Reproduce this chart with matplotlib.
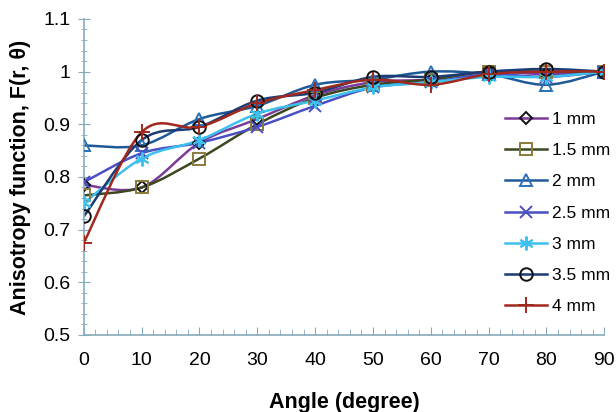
import numpy as np
import matplotlib
matplotlib.use("Agg")
from matplotlib import pyplot as plt
from matplotlib.path import Path
from matplotlib.patches import PathPatch
from matplotlib.lines import Line2D
from matplotlib.ticker import MultipleLocator

# Kot v stopinjah
koti = [0, 10, 20, 30, 40, 50, 60, 70, 80, 90]

# Anizotropna funkcija za posamezne razdalje
f_1mm = [0.785, 0.78, 0.865, 0.91, 0.955, 0.98, 0.985, 1.0, 0.995, 1.0]
f_15mm = [0.765, 0.78, 0.835, 0.90, 0.95, 0.975, 0.985, 1.0, 1.0, 1.0]
f_2mm = [0.86, 0.86, 0.91, 0.935, 0.975, 0.985, 1.0, 0.995, 0.975, 1.0]
f_25mm = [0.79, 0.845, 0.865, 0.895, 0.935, 0.97, 0.98, 0.995, 0.99, 1.0]
f_3mm = [0.75, 0.835, 0.87, 0.92, 0.945, 0.97, 0.98, 0.99, 0.99, 1.0]
f_35mm = [0.725, 0.87, 0.895, 0.945, 0.96, 0.99, 0.99, 1.0, 1.005, 1.0]
f_4mm = [0.675, 0.885, 0.895, 0.94, 0.965, 0.985, 0.975, 0.995, 1.0, 1.0]

oznake = ["1 mm", "1.5 mm", "2 mm", "2.5 mm", "3 mm", "3.5 mm", "4 mm"]
serije = [f_1mm, f_15mm, f_2mm, f_25mm, f_3mm, f_35mm, f_4mm]

barve = ["#7a3c98", "#3b4820", "#1f5a98", "#4a4fc4", "#3cc0ee", "#1b3c74", "#a0281e"]
robovi = ["#111111", "#8a7a3c", "#2a70b8", "#4a4fc4", "#3cc0ee", "#111111", "#a0281e"]
markerji = ["D", "s", "^", "x", (6, 2, 0), "o", "+"]
velikosti = [6.5, 8, 9, 9, 10, 9, 11]


def gladka_pot(x, y):
    """Zglajena krivulja (Catmull-Rom kot Bezierjeva pot) skozi točke."""
    x = np.asarray(x, float)
    y = np.asarray(y, float)
    n = len(x)
    tocke = [(x[0], y[0])]
    kode = [Path.MOVETO]
    for i in range(n - 1):
        p0 = (x[max(i - 1, 0)], y[max(i - 1, 0)])
        p1 = (x[i], y[i])
        p2 = (x[i + 1], y[i + 1])
        p3 = (x[min(i + 2, n - 1)], y[min(i + 2, n - 1)])
        c1 = (p1[0] + (p2[0] - p0[0]) / 6, p1[1] + (p2[1] - p0[1]) / 6)
        c2 = (p2[0] - (p3[0] - p1[0]) / 6, p2[1] - (p3[1] - p1[1]) / 6)
        tocke += [c1, c2, p2]
        kode += [Path.CURVE4] * 3
    return Path(tocke, kode)


plt.rcParams["font.family"] = ["Liberation Sans", "DejaVu Sans"]
fig = plt.figure(figsize=(6.16, 4.12), dpi=100)
ax = fig.add_axes([0.136, 0.187, 0.845, 0.767])

rocaji = []
for y, lab, b, r, m, s in zip(serije, oznake, barve, robovi, markerji, velikosti):
    ax.add_patch(PathPatch(gladka_pot(koti, y), facecolor="none", edgecolor=b, lw=1.8, zorder=2))
    ax.plot(koti, y, linestyle="none", marker=m, markersize=s, markerfacecolor="none",
            markeredgecolor=r, markeredgewidth=1.4, zorder=3)
    rocaji.append(Line2D([], [], color=b, lw=1.8, marker=m, markersize=s,
                         markerfacecolor="none", markeredgecolor=r, markeredgewidth=1.4))

ax.set_xlim(0, 90)
ax.set_ylim(0.5, 1.1)
ax.xaxis.set_major_locator(MultipleLocator(10))
ax.xaxis.set_minor_locator(MultipleLocator(2))
ax.yaxis.set_minor_locator(MultipleLocator(0.02))
ax.set_yticks([0.5, 0.6, 0.7, 0.8, 0.9, 1.0, 1.1])
ax.set_yticklabels(["0.5", "0.6", "0.7", "0.8", "0.9", "1", "1.1"])

os_barva = "#86aabb"
for stran in ["top", "right"]:
    ax.spines[stran].set_visible(False)
for stran in ["left", "bottom"]:
    ax.spines[stran].set_color(os_barva)
    ax.spines[stran].set_linewidth(1.2)
ax.tick_params(axis="y", which="major", direction="inout", length=9, color=os_barva, labelsize=14, pad=5)
ax.tick_params(axis="y", which="minor", direction="inout", length=5, color=os_barva)
ax.tick_params(axis="x", which="major", direction="in", length=6, color=os_barva, labelsize=14, pad=12)
ax.tick_params(axis="x", which="minor", direction="in", length=4, color=os_barva)

ax.set_xlabel("Angle (degree)", fontsize=15.5, fontweight="bold", labelpad=17)
ax.set_ylabel("Anisotropy function, F(r, θ)", fontsize=15.5, fontweight="bold", labelpad=9)

ax.legend(rocaji, oznake, loc="upper left", bbox_to_anchor=(0.82, 0.728),
          bbox_transform=fig.transFigure, frameon=False, fontsize=12.5,
          handlelength=2.4, handletextpad=0.28, labelspacing=0.92, borderpad=0,
          borderaxespad=0)

fig.savefig("out.png", dpi=100)
